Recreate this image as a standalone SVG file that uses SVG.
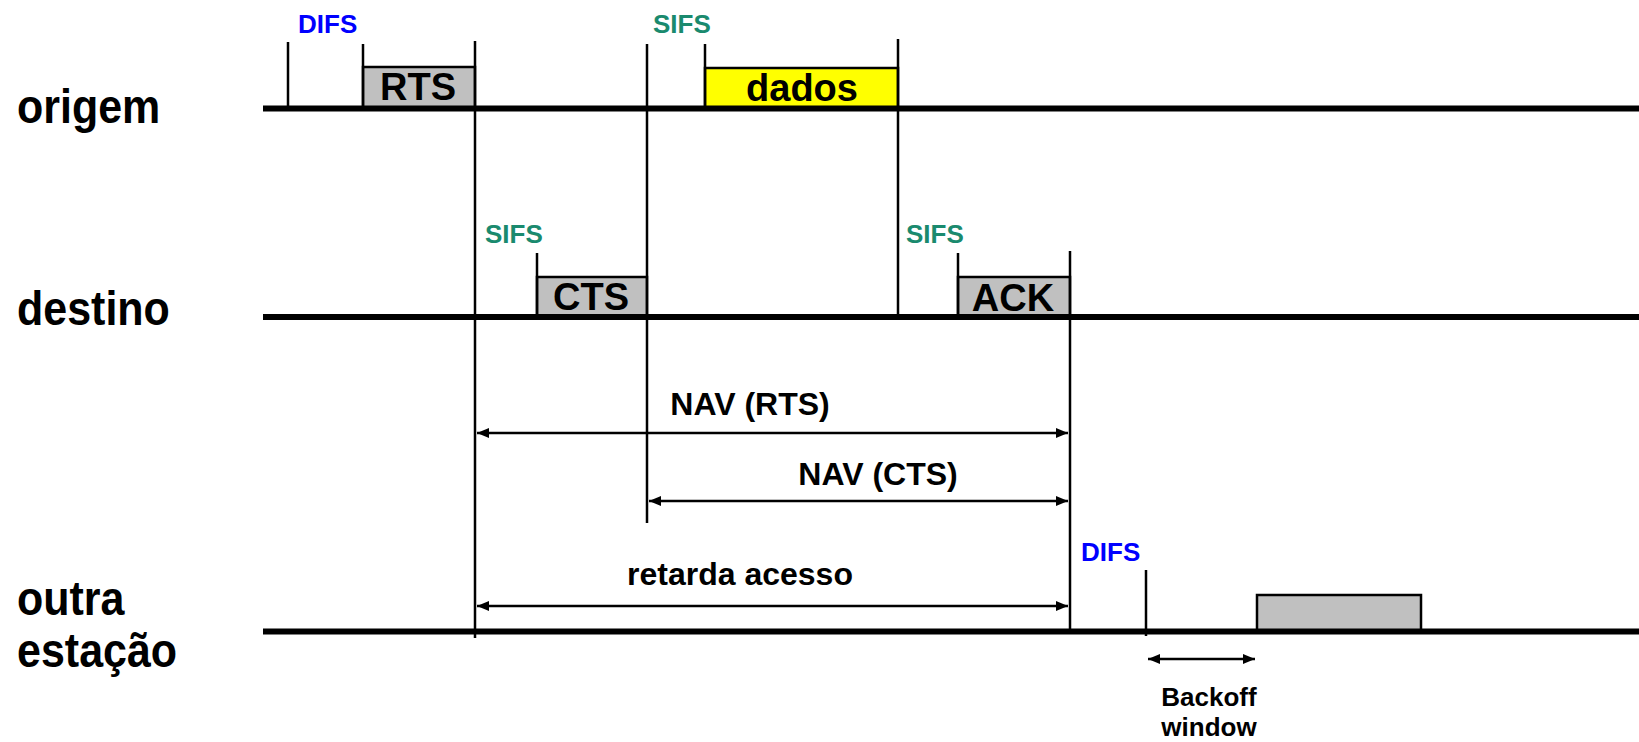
<svg xmlns="http://www.w3.org/2000/svg" width="1639" height="742" viewBox="0 0 1639 742">
<defs>
<style>
.lbl{font-family:"Liberation Sans",Arial,sans-serif;font-weight:bold;fill:#000}
.row{font-size:43px}
.frm{font-size:38px;text-anchor:middle}
.dur{font-size:32px;text-anchor:middle}
.difs{font-family:"Liberation Sans",Arial,sans-serif;font-weight:bold;font-size:26px;fill:#0000ff}
.sifs{font-family:"Liberation Sans",Arial,sans-serif;font-weight:bold;font-size:26px;fill:#1a8a6e}
.small{font-size:26px;text-anchor:middle}
.base{stroke:#000;stroke-width:6;fill:none}
.tick{stroke:#000;stroke-width:2.5;fill:none}
.box{stroke:#000;stroke-width:2.5}
.arr{stroke:#000;stroke-width:2.5;fill:none;marker-start:url(#ah);marker-end:url(#ah)}
</style>
<marker id="ah" viewBox="0 0 12 10" refX="12" refY="5" markerWidth="12" markerHeight="10" markerUnits="userSpaceOnUse" orient="auto-start-reverse">
<path d="M0,0 L12,5 L0,10 z" fill="#000"/>
</marker>
</defs>
<rect width="1639" height="742" fill="#fff"/>

<g id="origem">
<rect class="box" x="363" y="67" width="112" height="41" fill="#c0c0c0"/>
<rect class="box" x="705" y="68" width="193" height="40" fill="#ffff00"/>
<line class="base" x1="263" y1="108.5" x2="1639" y2="108.5"/>
<text class="lbl row" transform="translate(17,123) scale(1,1.12)">origem</text>
<text class="lbl frm" transform="translate(418,100) scale(1,1.04)">RTS</text>
<text class="lbl frm" transform="translate(802,101) scale(1,1.04)">dados</text>
<text class="difs" x="298" y="33">DIFS</text>
<text class="sifs" x="653" y="33">SIFS</text>
</g>

<g id="destino">
<rect class="box" x="537" y="277" width="110" height="40" fill="#c0c0c0"/>
<rect class="box" x="958" y="277" width="112" height="40" fill="#c0c0c0"/>
<line class="base" x1="263" y1="317" x2="1639" y2="317"/>
<text class="lbl row" transform="translate(17,325) scale(1,1.12)">destino</text>
<text class="lbl frm" transform="translate(591,310) scale(1,1.04)">CTS</text>
<text class="lbl frm" transform="translate(1013,311) scale(1,1.04)">ACK</text>
<text class="sifs" x="485" y="243">SIFS</text>
<text class="sifs" x="906" y="243">SIFS</text>
</g>

<g id="outra-estacao">
<rect class="box" x="1257" y="595" width="164" height="36" fill="#c0c0c0"/>
<line class="base" x1="263" y1="631.5" x2="1639" y2="631.5"/>
<text class="lbl row" transform="translate(17,615) scale(1,1.12)">outra</text>
<text class="lbl row" transform="translate(17,667) scale(1,1.12)">estação</text>
<text class="difs" x="1081" y="561">DIFS</text>
<text class="lbl small" x="1209" y="706">Backoff</text>
<text class="lbl small" x="1209" y="736">window</text>
</g>

<g id="connectors">
<line class="tick" x1="288" y1="42" x2="288" y2="108"/>
<line class="tick" x1="363" y1="44" x2="363" y2="108"/>
<line class="tick" x1="475" y1="41" x2="475" y2="638"/>
<line class="tick" x1="647" y1="44" x2="647" y2="523"/>
<line class="tick" x1="705" y1="44" x2="705" y2="108"/>
<line class="tick" x1="898" y1="39" x2="898" y2="317"/>
<line class="tick" x1="537" y1="253" x2="537" y2="317"/>
<line class="tick" x1="958" y1="253" x2="958" y2="317"/>
<line class="tick" x1="1070" y1="251" x2="1070" y2="632"/>
<line class="tick" x1="1146" y1="570" x2="1146" y2="636"/>
<line class="arr" x1="477" y1="433" x2="1068" y2="433"/>
<line class="arr" x1="649" y1="501" x2="1068" y2="501"/>
<line class="arr" x1="477" y1="606" x2="1068" y2="606"/>
<line class="arr" x1="1148" y1="659" x2="1255" y2="659"/>
<text class="lbl dur" x="750" y="415">NAV (RTS)</text>
<text class="lbl dur" x="878" y="485">NAV (CTS)</text>
<text class="lbl dur" x="740" y="585">retarda acesso</text>
</g>
</svg>
